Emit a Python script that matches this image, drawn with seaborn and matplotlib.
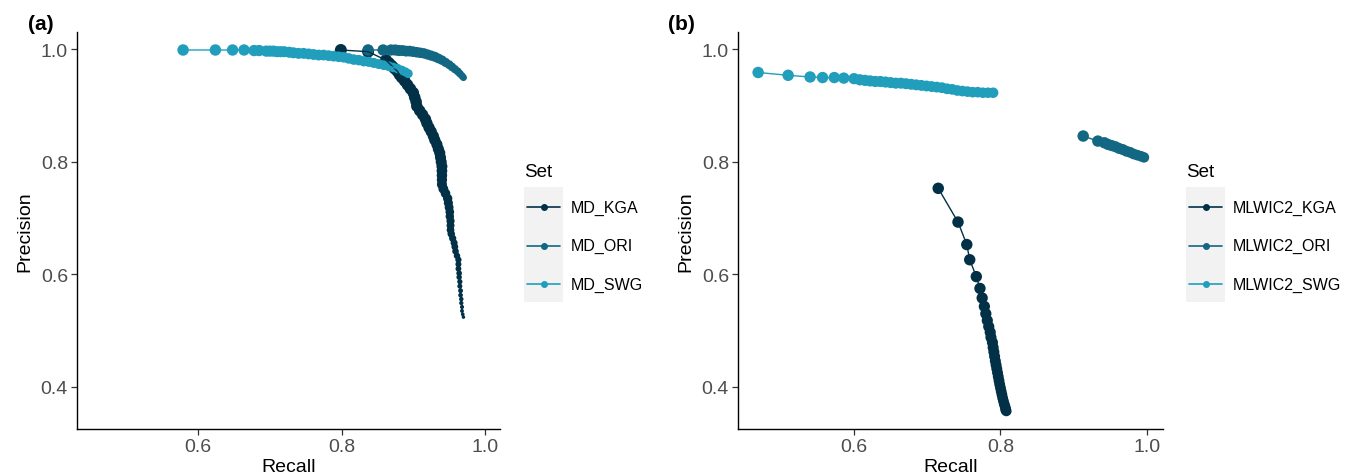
import numpy as np
import pandas as pd
import matplotlib
matplotlib.use("Agg")
import matplotlib.pyplot as plt
import seaborn as sns
from matplotlib.lines import Line2D
from matplotlib.patches import Rectangle

# ---------------- data ----------------
kga_a_recall = [0.799, 0.837, 0.862, 0.866, 0.870, 0.874, 0.878, 0.881, 0.884, 0.888,
                0.892, 0.896, 0.900, 0.902, 0.904, 0.905, 0.909, 0.913, 0.917, 0.919,
                0.922, 0.925, 0.928, 0.930, 0.933, 0.935, 0.937, 0.938, 0.939, 0.940,
                0.940, 0.940, 0.940, 0.940, 0.942, 0.945, 0.948, 0.949, 0.950, 0.951,
                0.951, 0.952, 0.952, 0.952, 0.953, 0.955, 0.957, 0.958, 0.959, 0.961,
                0.963, 0.963, 0.963, 0.964, 0.964, 0.965, 0.965, 0.966, 0.966, 0.967,
                0.967, 0.968, 0.968, 0.969, 0.970]
kga_a_precision = [0.999, 0.996, 0.981, 0.976, 0.971, 0.966, 0.961, 0.955, 0.950, 0.944,
                   0.937, 0.930, 0.923, 0.915, 0.907, 0.899, 0.891, 0.884, 0.876, 0.869,
                   0.861, 0.854, 0.846, 0.839, 0.831, 0.823, 0.816, 0.808, 0.800, 0.792,
                   0.784, 0.776, 0.768, 0.760, 0.752, 0.744, 0.735, 0.727, 0.719, 0.711,
                   0.703, 0.695, 0.687, 0.679, 0.672, 0.664, 0.656, 0.649, 0.641, 0.633,
                   0.626, 0.618, 0.610, 0.602, 0.595, 0.587, 0.579, 0.571, 0.563, 0.556,
                   0.549, 0.542, 0.535, 0.529, 0.524]

ori_a_recall = [0.837, 0.858, 0.869, 0.875, 0.880, 0.885, 0.890, 0.895, 0.900, 0.905,
                0.910, 0.915, 0.920, 0.925, 0.930, 0.935, 0.940, 0.945, 0.950, 0.954,
                0.958, 0.962, 0.965, 0.968, 0.970]
ori_a_precision = [0.999, 0.999, 0.999, 0.999, 0.998, 0.998, 0.997, 0.997, 0.996, 0.995,
                   0.994, 0.993, 0.991, 0.989, 0.987, 0.984, 0.981, 0.977, 0.973, 0.969,
                   0.965, 0.961, 0.957, 0.953, 0.950]

swg_a_recall = [0.579, 0.624, 0.648, 0.664, 0.678, 0.685, 0.695, 0.700, 0.705, 0.710,
                0.715, 0.720, 0.727, 0.733, 0.740, 0.747, 0.754, 0.761, 0.768, 0.775,
                0.782, 0.789, 0.796, 0.803, 0.810, 0.817, 0.824, 0.831, 0.838, 0.845,
                0.852, 0.859, 0.866, 0.872, 0.878, 0.884, 0.889, 0.893]
swg_a_precision = [0.999, 0.999, 0.999, 0.999, 0.998, 0.998, 0.997, 0.997, 0.997, 0.996,
                   0.996, 0.996, 0.995, 0.994, 0.993, 0.993, 0.992, 0.991, 0.990, 0.990,
                   0.989, 0.988, 0.987, 0.986, 0.984, 0.982, 0.981, 0.979, 0.978, 0.976,
                   0.974, 0.972, 0.970, 0.968, 0.966, 0.963, 0.960, 0.957]

kga_b_recall = [0.715, 0.742, 0.754, 0.758, 0.767, 0.772, 0.775, 0.778, 0.780, 0.782,
                0.784, 0.786, 0.787, 0.789, 0.790, 0.791, 0.792, 0.793, 0.794, 0.795,
                0.796, 0.797, 0.798, 0.799, 0.800, 0.801, 0.802, 0.803, 0.804, 0.805,
                0.806, 0.807, 0.807, 0.808]
kga_b_precision = [0.753, 0.693, 0.653, 0.626, 0.596, 0.575, 0.558, 0.543, 0.530, 0.518,
                   0.507, 0.497, 0.488, 0.479, 0.470, 0.462, 0.454, 0.446, 0.439, 0.432,
                   0.425, 0.418, 0.411, 0.404, 0.398, 0.392, 0.386, 0.380, 0.375, 0.370,
                   0.366, 0.362, 0.359, 0.357]

ori_b_recall = [0.913, 0.933, 0.942, 0.947, 0.952, 0.957, 0.962, 0.967, 0.972, 0.977,
                0.982, 0.987, 0.992, 0.996]
ori_b_precision = [0.846, 0.837, 0.834, 0.831, 0.829, 0.827, 0.824, 0.822, 0.819, 0.817,
                   0.814, 0.812, 0.810, 0.808]

swg_b_recall = [0.469, 0.510, 0.540, 0.557, 0.573, 0.586, 0.600, 0.608, 0.615, 0.622,
                0.629, 0.636, 0.643, 0.650, 0.657, 0.664, 0.671, 0.678, 0.685, 0.692,
                0.699, 0.706, 0.713, 0.720, 0.727, 0.734, 0.741, 0.748, 0.755, 0.762,
                0.769, 0.776, 0.783, 0.790]
swg_b_precision = [0.959, 0.954, 0.951, 0.950, 0.950, 0.949, 0.948, 0.946, 0.945, 0.944,
                   0.943, 0.943, 0.942, 0.941, 0.940, 0.940, 0.939, 0.938, 0.937, 0.936,
                   0.935, 0.934, 0.933, 0.932, 0.930, 0.929, 0.927, 0.926, 0.925, 0.924,
                   0.924, 0.923, 0.923, 0.923]

labels_a = ["MD_KGA", "MD_ORI", "MD_SWG"]
labels_b = ["MLWIC2_KGA", "MLWIC2_ORI", "MLWIC2_SWG"]
x_ticks = [0.6, 0.8, 1.0]
y_ticks = [0.4, 0.6, 0.8, 1.0]
colors = ["#023047", "#126782", "#219ebc"]

# ---------------- style ----------------
sns.set_theme(style="ticks")
plt.rcParams['font.family'] = ['Liberation Sans', 'DejaVu Sans']

W, H = 1359, 477
fig = plt.figure(figsize=(W / 100, H / 100), dpi=100)


def fx(x):
    return x / W


def fy(y):
    return 1 - y / H


def px2pt2(d):
    return (d * 0.72) ** 2


def build(series, labels, knots):
    frames = []
    for (rec, prec), lab, (kf, kd) in zip(series, labels, knots):
        n = len(rec)
        f = np.linspace(0, 1, n)
        d = np.interp(f, kf, kd)
        frames.append(pd.DataFrame({
            "Recall": rec, "Precision": prec, "Set": lab,
            "msize": px2pt2(d),
        }))
    return pd.concat(frames, ignore_index=True)


# marker diameter (px) along each series (style only)
df_a = build([(kga_a_recall, kga_a_precision), (ori_a_recall, ori_a_precision),
              (swg_a_recall, swg_a_precision)], labels_a,
             [([0, 0.45, 0.72, 1], [12, 11, 7, 3.5]),
              ([0, 0.6, 1], [11.5, 10, 7]),
              ([0, 0.7, 1], [11.5, 10.5, 9])])
df_b = build([(kga_b_recall, kga_b_precision), (ori_b_recall, ori_b_precision),
              (swg_b_recall, swg_b_precision)], labels_b,
             [([0, 1], [11.5, 10.5]),
              ([0, 1], [11.5, 10.5]),
              ([0, 1], [11.5, 10.5])])

panels = [
    dict(df=df_a, labels=labels_a, left=77, right=500, xlim=(0.431, 1.021), tag="(a)",
         tagx=28, legx=524),
    dict(df=df_b, labels=labels_b, left=738, right=1163, xlim=(0.4415, 1.022), tag="(b)",
         tagx=668, legx=1186),
]
top_px, bot_px = 33, 430
smin = px2pt2(2)
smax = px2pt2(14)

for p in panels:
    ax = fig.add_axes([fx(p["left"]), fy(bot_px), (p["right"] - p["left"]) / W,
                       (bot_px - top_px) / H])
    pal = dict(zip(p["labels"], colors))
    sns.scatterplot(data=p["df"], x="Recall", y="Precision", hue="Set",
                    hue_order=p["labels"], palette=pal, size="msize",
                    sizes=(smin, smax), size_norm=(smin, smax), linewidth=0,
                    legend=False, ax=ax, zorder=2, alpha=1)
    sns.lineplot(data=p["df"], x="Recall", y="Precision", hue="Set",
                 hue_order=p["labels"], palette=pal, sort=False, estimator=None,
                 linewidth=1.0, legend=False, ax=ax, zorder=3)
    ax.set_xlim(*p["xlim"])
    ax.set_ylim(0.325, 1.031)
    ax.set_xticks(x_ticks)
    ax.set_xticklabels([f"{v:.1f}" for v in x_ticks])
    ax.set_yticks(y_ticks)
    ax.set_yticklabels([f"{v:.1f}" for v in y_ticks])
    for s in ["top", "right"]:
        ax.spines[s].set_visible(False)
    for s in ["left", "bottom"]:
        ax.spines[s].set_color("black")
        ax.spines[s].set_linewidth(1.0)
    ax.tick_params(axis="both", length=4, width=0.9, color="#333333",
                   labelcolor="#4d4d4d", labelsize=14, pad=2.5, direction="out")
    ax.set_xlabel("Recall", fontsize=14, color="black", labelpad=2)
    ax.set_ylabel("Precision", fontsize=14, color="black", labelpad=5)
    ax.grid(False)
    ax.set_facecolor("white")

    # panel tag
    fig.text(fx(p["tagx"]), fy(24), p["tag"], fontsize=15, fontweight="bold",
             ha="left", va="center", color="black")

    # legend
    lx = p["legx"]
    fig.text(fx(lx), fy(177), "Set", fontsize=13.5, ha="left", va="baseline",
             color="black")
    fig.add_artist(Rectangle((fx(lx), fy(303)), 39 / W, 115 / H,
                             transform=fig.transFigure, facecolor="#f2f2f2",
                             edgecolor="none", zorder=1))
    for i, (lab, col) in enumerate(zip(p["labels"], colors)):
        yy = [208, 246.5, 285][i]
        fig.add_artist(Line2D([fx(lx + 3), fx(lx + 36)], [fy(yy), fy(yy)],
                              transform=fig.transFigure, color=col, linewidth=1.2,
                              zorder=2))
        fig.add_artist(Line2D([fx(lx + 19.5)], [fy(yy)], transform=fig.transFigure,
                              color=col, marker="o", markersize=4, linewidth=0,
                              zorder=3))
        fig.text(fx(lx + 47), fy(yy), lab, fontsize=11.5, ha="left", va="center",
                 color="black")

fig.savefig("out.png", dpi=100, facecolor="white")
